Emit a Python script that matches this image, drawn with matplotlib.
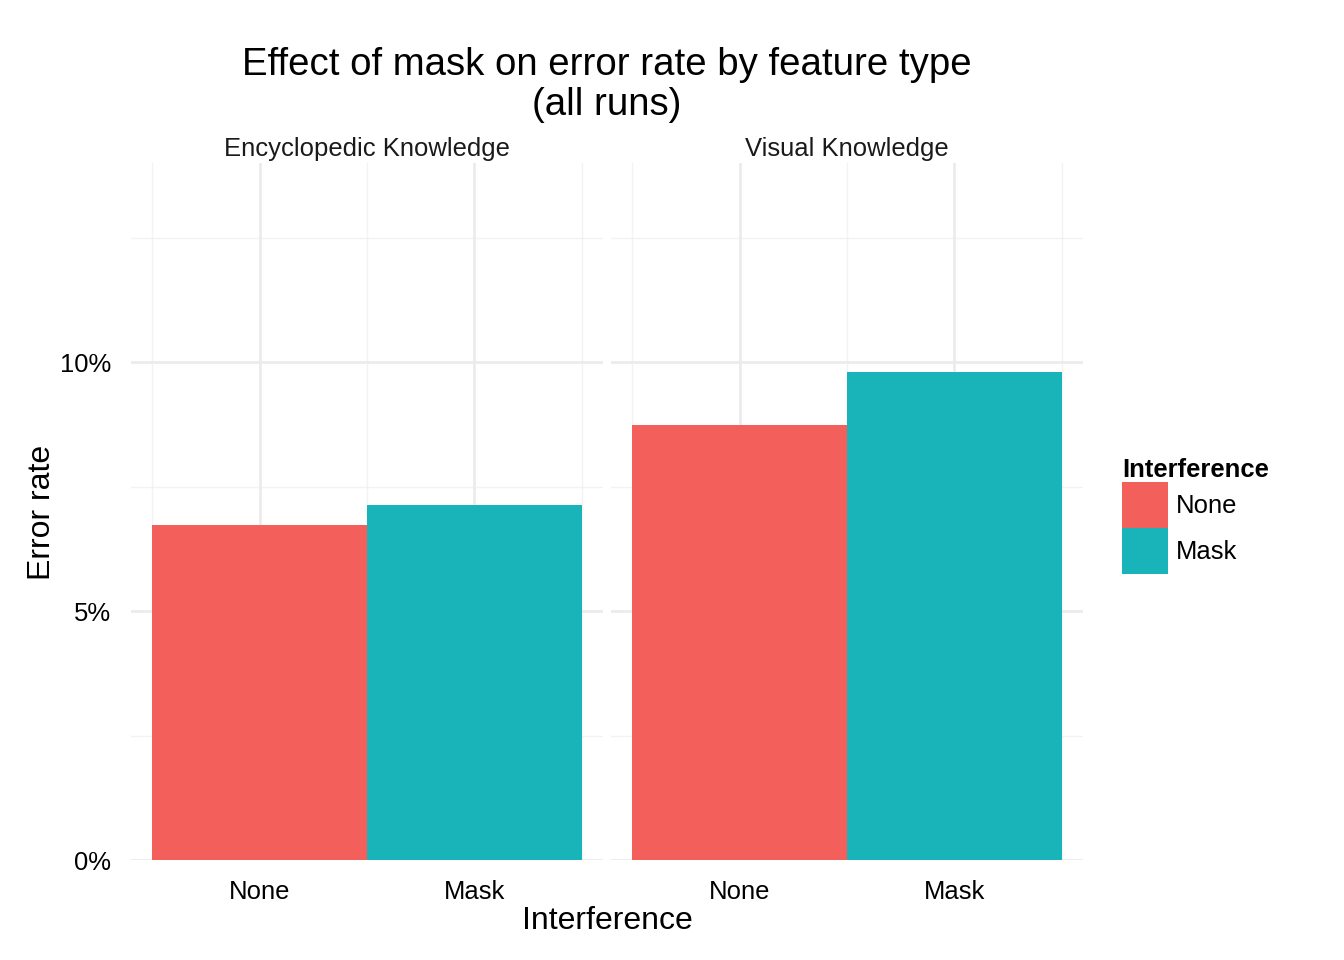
import matplotlib
matplotlib.use("Agg")
import matplotlib.pyplot as plt
import numpy as np
from matplotlib.patches import Patch
from matplotlib.ticker import FixedLocator

plt.rcParams["font.family"] = ["Liberation Sans", "DejaVu Sans"]

# data (error rate in %)
facets = ["Encyclopedic Knowledge", "Visual Knowledge"]
interference = ["None", "Mask"]
error_encyclopedic = [6.72, 7.13]
error_visual = [8.74, 9.80]
colors = ["#F35F5B", "#19B4B9"]

W, H = 1344, 960
fig = plt.figure(figsize=(7, 5), dpi=192)

GRID = "#EBEBEB"


def panel(left_px, values, title, show_y):
    ax = fig.add_axes([left_px / W, (H - 860) / H, 472 / W, 697 / H])
    x = np.arange(1, len(values) + 1)
    ax.bar(x, values, width=1.0, color=colors, zorder=3)
    ax.set_xlim(0.4, 2.6)
    ax.set_ylim(0, 14.0)
    ax.set_xticks(x)
    ax.set_xticklabels(interference, fontsize=9.6)
    ax.xaxis.set_minor_locator(FixedLocator([0.5, 1.5, 2.5]))
    ax.set_yticks([0, 5, 10])
    ax.yaxis.set_minor_locator(FixedLocator([2.5, 7.5, 12.5]))
    if show_y:
        ax.set_yticklabels([f"{v}%" for v in [0, 5, 10]], fontsize=9.6)
    else:
        ax.set_yticklabels([])
    ax.tick_params(which="both", length=0)
    ax.tick_params(axis="x", pad=7.5)
    ax.tick_params(axis="y", pad=7.5)
    ax.grid(which="major", color=GRID, linewidth=1.0, zorder=0)
    ax.grid(which="minor", color=GRID, linewidth=0.5, zorder=0, alpha=0.6)
    for s in ax.spines.values():
        s.set_visible(False)
    ax.text(0.5, 1 + 14 / 697, title, transform=ax.transAxes,
            ha="center", va="center", fontsize=9.6, color="#1A1A1A")
    return ax


panel(131, error_encyclopedic, facets[0], True)
panel(611, error_visual, facets[1], False)

fig.text(607 / W, 1 - 85 / H,
         "Effect of mask on error rate by feature type\n(all runs)",
         ha="center", va="center", fontsize=14.4, linespacing=1.15)
fig.text(607 / W, 1 - 921 / H, "Interference", ha="center", va="center",
         fontsize=12)
fig.text(42 / W, 1 - 512 / H, "Error rate", ha="center", va="center",
         fontsize=12, rotation=90)

handles = [Patch(facecolor=c, edgecolor="none", label=l)
           for c, l in zip(colors, interference)]
leg = fig.legend(handles=handles, title="Interference",
                 loc="upper left", bbox_to_anchor=(1112 / W, 1 - 448 / H),
                 frameon=False, fontsize=9.6,
                 title_fontproperties={"weight": "bold", "size": 9.6},
                 handlelength=1.8, handleheight=2.39, labelspacing=0,
                 handletextpad=0.28, borderaxespad=0, alignment="left")

fig.savefig("out.png", dpi=192)
